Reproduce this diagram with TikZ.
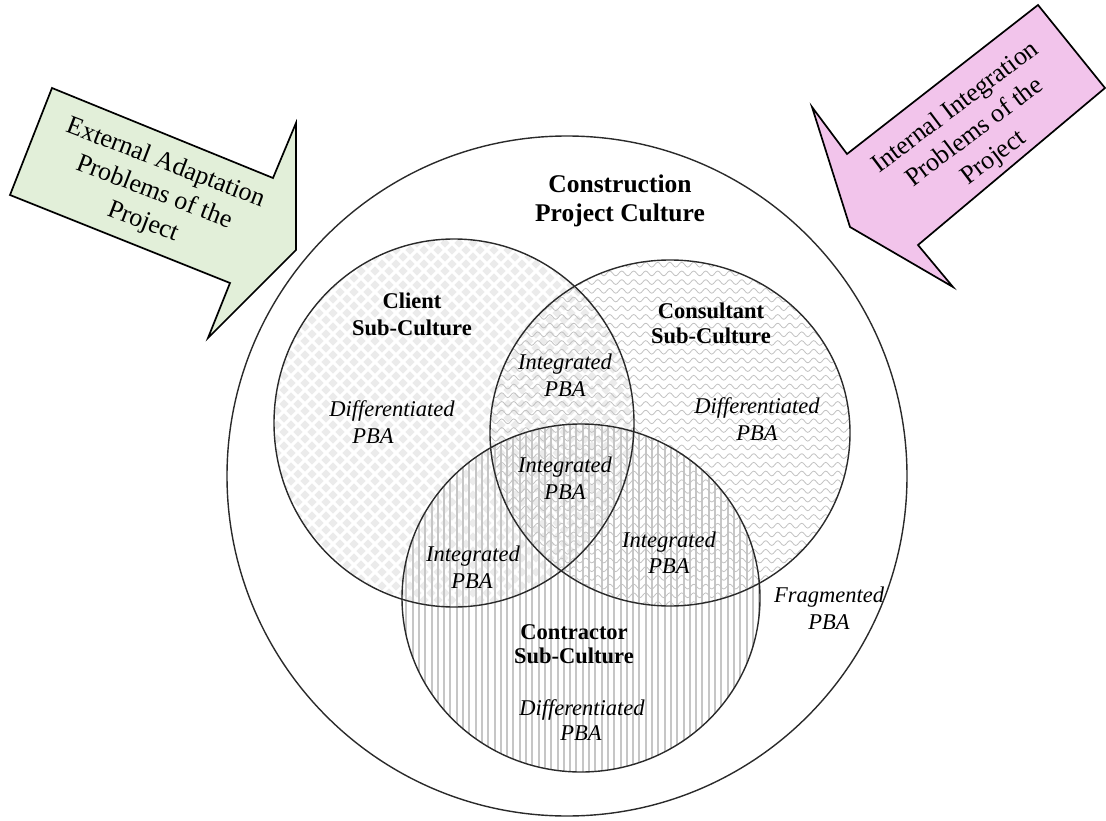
\documentclass[tikz,border=0pt]{standalone}
\usepackage{fontspec}
\setmainfont{Liberation Serif}
\usetikzlibrary{decorations.pathmorphing}
\definecolor{adaptgreen}{HTML}{E2EFD9}
\definecolor{integpink}{HTML}{F2C4EB}
\definecolor{diamondgray}{HTML}{EBEBEB}
\definecolor{wavegray}{HTML}{C2C2C2}
\definecolor{stripegray}{HTML}{C6C6C6}
\definecolor{ringgray}{HTML}{2A2A2A}
\begin{document}
\begin{tikzpicture}[x=1pt,y=-1pt,
  outline/.style={draw=ringgray, line width=1.4pt},
  bigarrow/.style={draw=black, line width=1.7pt, line join=miter},
  arrowtext/.style={font=\fontsize{26}{31.5}\selectfont, align=center, inner sep=0pt},
  titletext/.style={font=\fontsize{25.5}{29}\selectfont\bfseries, align=center, inner sep=0pt},
  subtext/.style={font=\fontsize{22.5}{25}\selectfont\bfseries, inner sep=0pt},
  pba/.style={font=\fontsize{22.5}{25}\selectfont\itshape, inner sep=0pt},
  wave/.style={draw=wavegray, line width=0.8pt, decorate,
    decoration={snake, segment length=12pt, amplitude=2.4pt}},
  stripe/.style={draw=stripegray, line width=2pt}]
\useasboundingbox (0,0) rectangle (1106,821);

% circle centres
\coordinate (project) at (567,476);
\coordinate (client) at (454,423);
\coordinate (consultant) at (670,433);
\coordinate (contractor) at (581,598);

% client sub-culture: diamond checker fill
\begin{scope}
  \clip (client) ellipse [x radius=180pt, y radius=184pt];
  \fill[diamondgray]
    \foreach \i in {0,...,27} { \foreach \j in {0,...,27} {
      ({270+14*\i},{236+14*\j}) +(-4.6,0) -- +(0,-4.6) -- +(4.6,0) -- +(0,4.6) -- cycle
      ({277+14*\i},{243+14*\j}) +(-4.6,0) -- +(0,-4.6) -- +(4.6,0) -- +(0,4.6) -- cycle
    } };
\end{scope}

% contractor sub-culture: vertical stripes
\begin{scope}
  \clip (contractor) ellipse [x radius=179pt, y radius=174pt];
  \foreach \k in {0,...,58}
    \draw[stripe] ({400+6.3*\k},420) -- ({400+6.3*\k},776);
\end{scope}

% consultant sub-culture: wavy lines
\begin{scope}
  \clip (consultant) ellipse [x radius=180pt, y radius=173pt];
  \foreach \k in {0,...,40}
    \draw[wave] (486,{256+8.7*\k}) -- (860,{256+8.7*\k});
\end{scope}

% outlines
\draw[outline] (project) circle [radius=340pt];
\draw[outline] (client) ellipse [x radius=180pt, y radius=184pt];
\draw[outline] (consultant) ellipse [x radius=180pt, y radius=173pt];
\draw[outline] (contractor) ellipse [x radius=179pt, y radius=174pt];

% block arrows
\draw[bigarrow, fill=adaptgreen]
  (52,88) -- (273,178) -- (296,123) -- (296,250) -- (208,338) -- (230,283) -- (10,195) -- cycle;
\node[arrowtext, rotate=-21] (external) at (154,193)
  {External Adaptation\\Problems of the\\Project};

\draw[bigarrow, fill=integpink]
  (1038,5) -- (1105,88) -- (918,245) -- (953,287) -- (850,227) -- (812,107) -- (847,154) -- cycle;
\node[arrowtext, rotate=37] (internal) at (975,133)
  {Internal Integration\\Problems of the\\Project};

% labels
\node[titletext] (title) at (620,201) {Construction\\Project Culture};

\node[subtext] (clientA) at (412,301) {Client};
\node[subtext] (clientB) at (412,328) {Sub-Culture};
\node[pba] (clientD) at (392,411) {Differentiated};
\node[pba] (clientP) at (373,436) {PBA};

\node[subtext] (consA) at (711,311) {Consultant};
\node[subtext] (consB) at (711,336) {Sub-Culture};
\node[pba] (consD) at (757,408) {Differentiated};
\node[pba] (consP) at (757,433) {PBA};

\node[pba] (intTopA) at (565,364) {Integrated};
\node[pba] (intTopB) at (565,389) {PBA};
\node[pba] (intMidA) at (565,467) {Integrated};
\node[pba] (intMidB) at (565,492) {PBA};
\node[pba] (intLeftA) at (473,556) {Integrated};
\node[pba] (intLeftB) at (472,581) {PBA};
\node[pba] (intRightA) at (669,542) {Integrated};
\node[pba] (intRightB) at (669,566) {PBA};

\node[subtext] (contrA) at (574,632) {Contractor};
\node[subtext] (contrB) at (574,656) {Sub-Culture};
\node[pba] (contrD) at (582,710) {Differentiated};
\node[pba] (contrP) at (581,733) {PBA};

\node[pba] (fragA) at (829,597) {Fragmented};
\node[pba] (fragB) at (829,622) {PBA};
\end{tikzpicture}
\end{document}
